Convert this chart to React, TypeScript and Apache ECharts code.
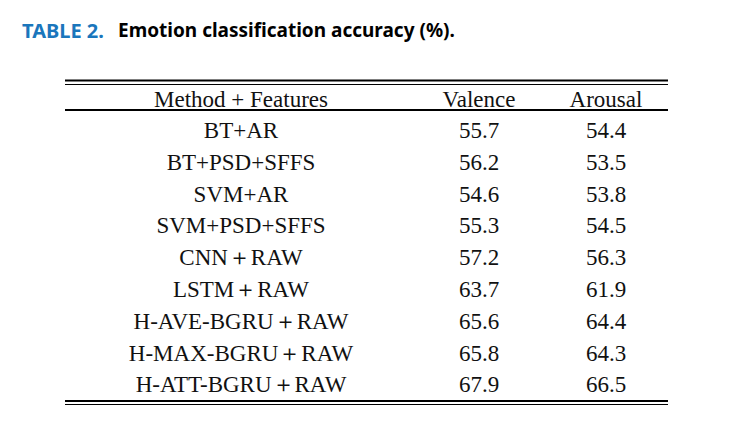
import React, { useEffect, useRef } from "react";
import * as echarts from "echarts";

const titleLabel = "TABLE 2.";
const titleText = "Emotion classification accuracy (%).";
const headers = ["Method + Features", "Valence", "Arousal"];
const methods = [
  "BT+AR",
  "BT+PSD+SFFS",
  "SVM+AR",
  "SVM+PSD+SFFS",
  "CNN＋RAW",
  "LSTM＋RAW",
  "H-AVE-BGRU＋RAW",
  "H-MAX-BGRU＋RAW",
  "H-ATT-BGRU＋RAW",
];
const valence = [55.7, 56.2, 54.6, 55.3, 57.2, 63.7, 65.6, 65.8, 67.9];
const arousal = [54.4, 53.5, 53.8, 54.5, 56.3, 61.9, 64.4, 64.3, 66.5];

export default function App() {
  const ref = useRef<HTMLDivElement>(null);
  useEffect(() => {
    if (!ref.current) return;
    const chart = echarts.init(ref.current, undefined, { renderer: "svg" });
    const serif = "Liberation Serif";
    const sans = "Noto Sans";
    const colX = [241, 479, 606];
    const headerY = 99;
    const rowY0 = 130.5;
    const rowH = 31.8;
    const left = 65;
    const right = 668;
    const txt = (s: string, x: number, y: number) => ({
      type: "text",
      x,
      y,
      style: {
        text: s,
        fontSize: 23,
        fontFamily: serif,
        fill: "#111",
        textAlign: "center",
        textVerticalAlign: "middle",
      },
    });
    const hline = (y: number, w: number) => ({
      type: "line",
      shape: { x1: left, y1: y, x2: right, y2: y },
      style: { stroke: "#000", lineWidth: w },
    });
    const elements: any[] = [
      {
        type: "text",
        x: 22,
        y: 30,
        style: {
          text: titleLabel,
          fontSize: 20,
          fontWeight: "bold",
          fontFamily: sans,
          fill: "#1a76bc",
          textVerticalAlign: "middle",
        },
      },
      {
        type: "text",
        x: 118,
        y: 30,
        style: {
          text: titleText,
          fontSize: 19,
          fontWeight: "bold",
          fontFamily: sans,
          fill: "#000",
          textVerticalAlign: "middle",
        },
      },
      hline(80.5, 2),
      hline(84.5, 1),
      hline(110, 2),
      hline(401, 2),
      hline(404.5, 1),
    ];
    headers.forEach((h, i) => elements.push(txt(h, colX[i], headerY)));
    methods.forEach((m, i) => {
      const y = rowY0 + i * rowH;
      elements.push(txt(m, colX[0], y));
      elements.push(txt(valence[i].toFixed(1), colX[1], y));
      elements.push(txt(arousal[i].toFixed(1), colX[2], y));
    });
    chart.setOption({
      animation: false,
      backgroundColor: "#fff",
      graphic: { elements },
    });
    return () => chart.dispose();
  }, []);
  return (
    <div
      ref={ref}
      style={{ position: "absolute", left: 0, top: 0, width: 744, height: 436 }}
    />
  );
}
